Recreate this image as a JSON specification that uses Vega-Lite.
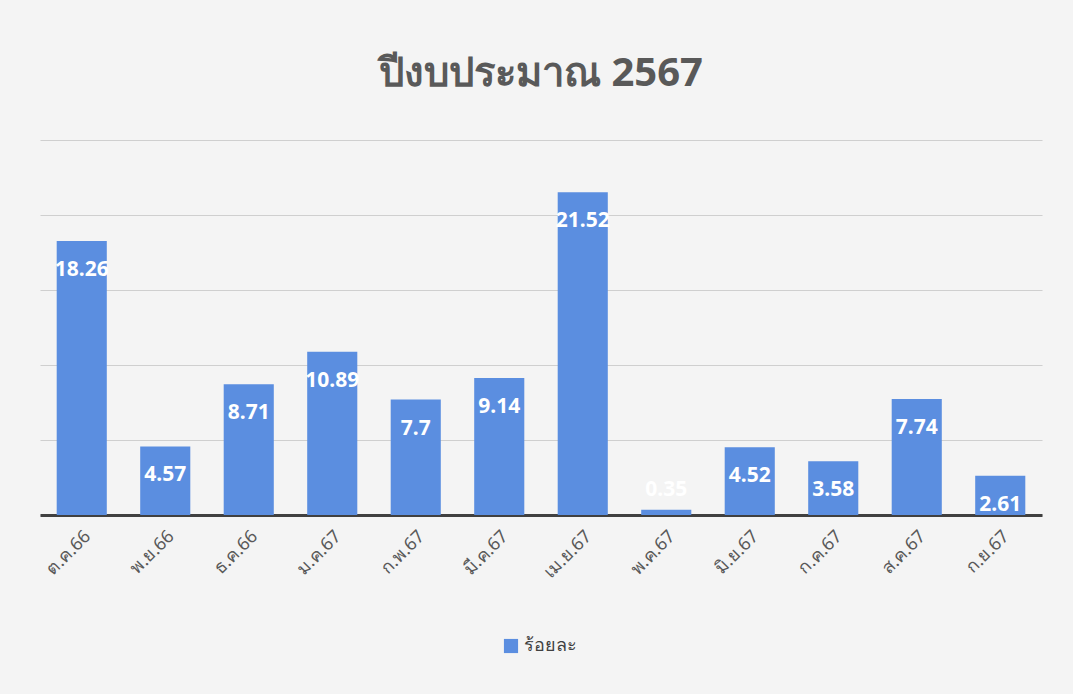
{
  "$schema": "https://vega.github.io/schema/vega-lite/v6.json",
  "width": 1002,
  "height": 375,
  "autosize": {"type": "none"},
  "padding": {"left": 40, "top": 140, "right": 31, "bottom": 179},
  "background": "#f4f4f4",
  "config": {"view": {"stroke": null}},
  "title": {
    "text": "ปีงบประมาณ 2567",
    "fontSize": 40,
    "fontWeight": "bold",
    "color": "#595959",
    "font": "Noto Sans",
    "anchor": "middle",
    "offset": 46
  },
  "data": {
    "values": [
      {"month": "ต.ค.66", "value": 18.26},
      {"month": "พ.ย.66", "value": 4.57},
      {"month": "ธ.ค.66", "value": 8.71},
      {"month": "ม.ค.67", "value": 10.89},
      {"month": "ก.พ.67", "value": 7.7},
      {"month": "มี.ค.67", "value": 9.14},
      {"month": "เม.ย.67", "value": 21.52},
      {"month": "พ.ค.67", "value": 0.35},
      {"month": "มิ.ย.67", "value": 4.52},
      {"month": "ก.ค.67", "value": 3.58},
      {"month": "ส.ค.67", "value": 7.74},
      {"month": "ก.ย.67", "value": 2.61}
    ]
  },
  "encoding": {
    "x": {
      "field": "month",
      "type": "nominal",
      "sort": null,
      "scale": {"paddingInner": 0.4, "paddingOuter": 0.2},
      "axis": {
        "title": null,
        "labelAngle": -45,
        "labelFontSize": 18,
        "labelColor": "#595959",
        "labelFont": "Noto Sans",
        "labelPadding": 12,
        "ticks": false,
        "domainColor": "#404040",
        "domainWidth": 3
      }
    },
    "y": {
      "field": "value",
      "type": "quantitative",
      "scale": {"domain": [0, 25], "nice": false},
      "axis": {
        "title": null,
        "labels": false,
        "ticks": false,
        "domain": false,
        "values": [0, 5, 10, 15, 20, 25],
        "gridColor": "#cfcfcf",
        "gridWidth": 1
      }
    }
  },
  "layer": [
    {
      "mark": {"type": "bar"},
      "encoding": {
        "color": {
          "datum": "ร้อยละ",
          "type": "nominal",
          "scale": {"range": ["#5b8ee0"]},
          "legend": {
            "title": null,
            "orient": "none",
            "legendX": 462,
            "legendY": 497,
            "labelFontSize": 18,
            "labelColor": "#404040",
            "labelFont": "Noto Sans",
            "symbolType": "square",
            "symbolSize": 200
          }
        }
      }
    },
    {
      "transform": [{"filter": "datum.value >= 2"}],
      "mark": {
        "type": "text",
        "baseline": "middle",
        "dy": 29,
        "fontSize": 21,
        "fontWeight": "bold",
        "font": "Noto Sans",
        "color": "white"
      },
      "encoding": {
        "text": {"field": "value", "type": "quantitative"}
      }
    },
    {
      "transform": [{"filter": "datum.value < 2"}],
      "mark": {
        "type": "text",
        "baseline": "middle",
        "dy": -20,
        "fontSize": 21,
        "fontWeight": "bold",
        "font": "Noto Sans",
        "color": "white"
      },
      "encoding": {
        "text": {"field": "value", "type": "quantitative"}
      }
    }
  ]
}
